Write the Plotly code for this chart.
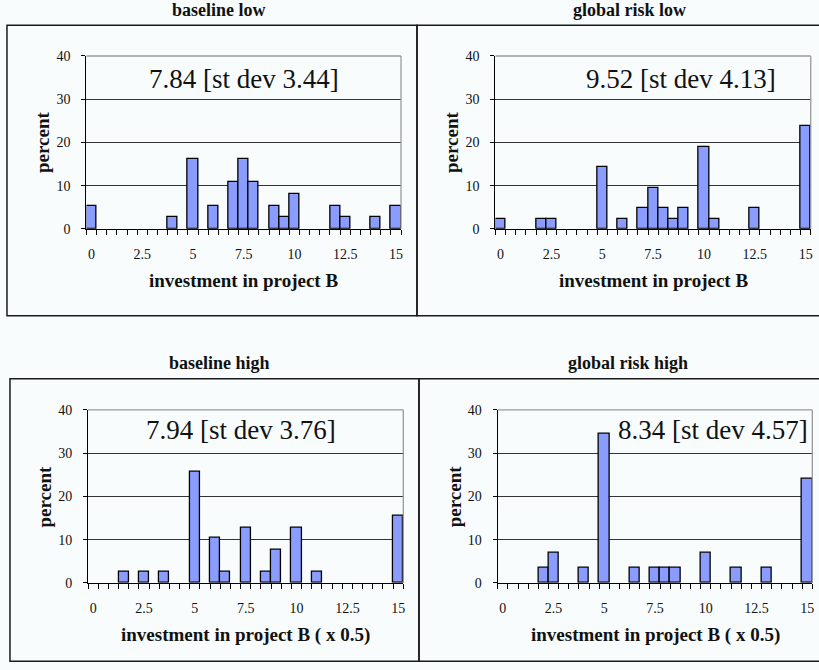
import plotly.graph_objects as go

# ---------------- data ----------------
titles = ["baseline low", "global risk low", "baseline high", "global risk high"]
stats = ["7.84 [st dev 3.44]", "9.52 [st dev 4.13]", "7.94 [st dev 3.76]", "8.34 [st dev 4.57]"]
x_titles = ["investment in project B", "investment in project B",
            "investment in project B ( x 0.5)", "investment in project B ( x 0.5)"]

baseline_low_x = [0, 4, 5, 6, 7, 7.5, 8, 9, 9.5, 10, 12, 12.5, 14, 15]
baseline_low_y = [5.4, 2.7, 16.2, 5.4, 10.8, 16.2, 10.8, 5.4, 2.7, 8.1, 5.4, 2.7, 2.7, 5.4]

global_low_x = [0, 2, 2.5, 5, 6, 7, 7.5, 8, 8.5, 9, 10, 10.5, 12.5, 15]
global_low_y = [2.4, 2.4, 2.4, 14.3, 2.4, 4.8, 9.5, 4.8, 2.4, 4.8, 19.0, 2.4, 4.8, 23.8]

baseline_high_x = [1.5, 2.5, 3.5, 5, 6, 6.5, 7.5, 8.5, 9, 10, 11, 15]
baseline_high_y = [2.6, 2.6, 2.6, 25.6, 10.3, 2.6, 12.8, 2.6, 7.7, 12.8, 2.6, 15.4]

global_high_x = [2, 2.5, 4, 5, 6.5, 7.5, 8, 8.5, 10, 11.5, 13, 15]
global_high_y = [3.4, 6.9, 3.4, 34.5, 3.4, 3.4, 3.4, 3.4, 6.9, 3.4, 3.4, 24.1]

x_tick_vals = [0, 2.5, 5, 7.5, 10, 12.5, 15]
x_tick_text = ["0", "2.5", "5", "7.5", "10", "12.5", "15"]
y_tick_vals = [0, 10, 20, 30, 40]

series = [(baseline_low_x, baseline_low_y), (global_low_x, global_low_y),
          (baseline_high_x, baseline_high_y), (global_high_x, global_high_y)]

# ---------------- layout geometry (pixels) ----------------
W, H = 819, 670
BG = "#f8fcfd"
FONT = "Liberation Serif"
BAR = "#8a9cfd"

plots = [(86.7, 402.0, 56.7, 229.3),
         (496.7, 812.7, 56.7, 229.3),
         (88.3, 404.3, 410.0, 582.7),
         (499.0, 814.3, 410.0, 582.7)]
boxes = [(7, 418, 26, 316), (418, 822, 26, 316), (10, 420, 379, 668), (420, 822, 379, 668)]
title_pos = [(220, 11), (631, 11), (220, 363), (630, 363)]
stat_pos = [(0.5, "center"), (0.59, "center"), (0.485, "center"), (0.993, "right")]
stat_y = [0.865, 0.865, 0.884, 0.884]


def fx(px):
    return px / W


def fy(py):
    # vertical pixel position -> paper fraction (with capture compensation)
    p = (py - 7.8) / 0.976
    p = min(max(p, 0.5), H - 0.8)
    return 1 - p / H


fig = go.Figure()
annotations = []
shapes = []

for i, ((xs, ys), (l, r, t, b)) in enumerate(zip(series, plots)):
    n = "" if i == 0 else str(i + 1)
    xa, ya = "x" + n, "y" + n
    fig.add_trace(go.Bar(x=xs, y=ys, width=0.5, xaxis=xa, yaxis=ya,
                         marker=dict(color=BAR, line=dict(color="black", width=1.3)),
                         showlegend=False, hoverinfo="x+y"))
    fig.update_layout(**{
        "xaxis" + n: dict(domain=[fx(l), fx(r)], anchor=ya, range=[-0.25, 15.25],
                          tickmode="array", tickvals=x_tick_vals, ticktext=x_tick_text,
                          ticks="", showgrid=False, zeroline=False,
                          showline=True, linecolor="black", linewidth=1.3,
                          ticklabelstandoff=12,
                          tickfont=dict(family=FONT, size=14, color="#111"),
                          minor=dict(tick0=-0.25, dtick=0.5, ticks="outside", ticklen=5,
                                     tickcolor="black", tickwidth=1.2, showgrid=False)),
        "yaxis" + n: dict(domain=[fy(b), fy(t)], anchor=xa, range=[0, 40],
                          tickmode="array", tickvals=y_tick_vals,
                          ticks="outside", ticklen=4, tickcolor="black", tickwidth=1.2,
                          showgrid=True, gridcolor="#333333", gridwidth=1,
                          zeroline=False, showline=True, linecolor="black", linewidth=1.3,
                          ticklabelstandoff=8,
                          tickfont=dict(family=FONT, size=14, color="#111")),
    })
    # gray top and right frame of the plot area
    shapes.append(dict(type="line", xref="paper", yref="paper", x0=fx(l), x1=fx(r),
                       y0=fy(t), y1=fy(t), line=dict(color="#9a9a9a", width=1.3)))
    shapes.append(dict(type="line", xref="paper", yref="paper", x0=fx(r), x1=fx(r),
                       y0=fy(t), y1=fy(b), line=dict(color="#9a9a9a", width=1.3)))
    # panel box
    bl, br, bt, bb = boxes[i]
    shapes.append(dict(type="rect", xref="paper", yref="paper", x0=fx(bl), x1=fx(br),
                       y0=fy(bb), y1=fy(bt), line=dict(color="#1a1a1a", width=1.5),
                       layer="below"))
    # panel title
    tx, ty = title_pos[i]
    annotations.append(dict(text="<b>" + titles[i] + "</b>", xref="paper", yref="paper",
                            x=fx(tx), y=fy(ty), showarrow=False, xanchor="center",
                            yanchor="middle", font=dict(family=FONT, size=18, color="#111")))
    # mean / st dev text
    sx, sa = stat_pos[i]
    annotations.append(dict(text=stats[i], xref=xa + " domain", yref=ya + " domain",
                            x=sx, y=stat_y[i], showarrow=False, xanchor=sa, yanchor="middle",
                            font=dict(family=FONT, size=27, color="#111")))
    # x axis title
    annotations.append(dict(text="<b>" + x_titles[i] + "</b>", xref=xa + " domain",
                            yref="paper", x=0.5, y=fy(b + 52), showarrow=False,
                            xanchor="center", yanchor="middle",
                            font=dict(family=FONT, size=19, color="#111")))
    # y axis title
    annotations.append(dict(text="<b>percent</b>", xref="paper", yref=ya + " domain",
                            x=fx(l - 44), y=0.5, showarrow=False, textangle=-90,
                            xanchor="center", yanchor="middle",
                            font=dict(family=FONT, size=19, color="#111")))

fig.update_layout(width=W, height=H, margin=dict(l=0, r=0, t=0, b=0),
                  paper_bgcolor=BG, plot_bgcolor=BG, bargap=0,
                  annotations=annotations, shapes=shapes,
                  font=dict(family=FONT))

fig.write_html("out.html",
               post_script="document.body.style.margin='0';document.body.style.overflow='hidden';",
               config={"displayModeBar": False})
